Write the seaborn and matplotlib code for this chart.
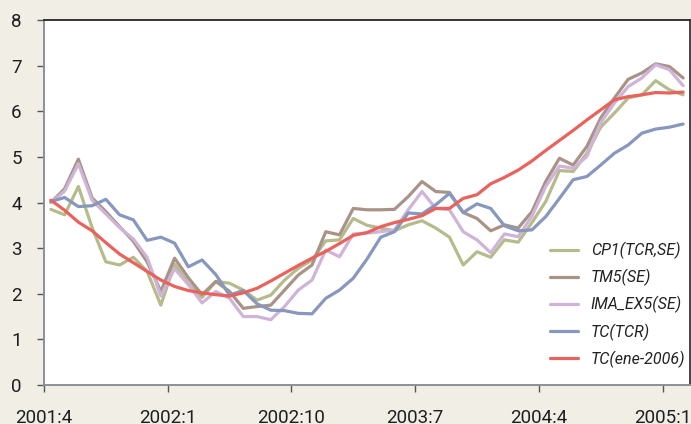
import numpy as np
import pandas as pd
import matplotlib
matplotlib.use("Agg")
import matplotlib.pyplot as plt
import seaborn as sns

# monthly observations, 2001:4 .. 2005:2
months = [f"{p.year}:{p.month}" for p in pd.period_range("2001-04", periods=47, freq="M")]

cp1 = [3.85, 3.73, 4.35, 3.45, 2.70, 2.63, 2.80, 2.49, 1.75, 2.65,
       2.23, 1.92, 2.27, 2.23, 2.08, 1.86, 1.97, 2.30, 2.56, 2.74,
       3.16, 3.18, 3.65, 3.50, 3.44, 3.38, 3.51, 3.60, 3.44, 3.24,
       2.63, 2.92, 2.80, 3.18, 3.13, 3.56, 4.02, 4.70, 4.68, 5.08,
       5.65, 5.96, 6.29, 6.36, 6.67, 6.47, 6.36]
tm5 = [4.00, 4.30, 4.95, 4.10, 3.80, 3.47, 3.15, 2.70, 2.05, 2.78,
       2.35, 1.98, 2.27, 2.05, 1.68, 1.72, 1.75, 2.08, 2.41, 2.63,
       3.36, 3.29, 3.87, 3.84, 3.84, 3.85, 4.13, 4.46, 4.24, 4.22,
       3.78, 3.65, 3.38, 3.51, 3.44, 3.80, 4.46, 4.97, 4.82, 5.23,
       5.85, 6.29, 6.70, 6.84, 7.04, 6.98, 6.73]
ima_ex5 = [4.00, 4.25, 4.85, 4.05, 3.75, 3.45, 3.20, 2.80, 1.95, 2.55,
           2.20, 1.80, 2.05, 1.90, 1.50, 1.50, 1.43, 1.72, 2.08, 2.30,
           2.96, 2.81, 3.31, 3.33, 3.36, 3.40, 3.84, 4.24, 3.87, 3.84,
           3.36, 3.18, 2.90, 3.31, 3.25, 3.70, 4.35, 4.80, 4.75, 5.01,
           5.75, 6.18, 6.54, 6.73, 7.02, 6.91, 6.56]
tc_tcr = [4.02, 4.11, 3.91, 3.93, 4.07, 3.73, 3.62, 3.17, 3.24, 3.11,
          2.59, 2.74, 2.42, 1.97, 2.07, 1.78, 1.64, 1.63, 1.57, 1.56,
          1.90, 2.08, 2.34, 2.76, 3.24, 3.36, 3.77, 3.75, 3.95, 4.20,
          3.78, 3.97, 3.87, 3.49, 3.38, 3.40, 3.69, 4.09, 4.50, 4.57,
          4.82, 5.08, 5.26, 5.52, 5.61, 5.65, 5.72]
tc_ene2006 = [4.05, 3.83, 3.57, 3.38, 3.12, 2.87, 2.68, 2.49, 2.30, 2.16,
              2.07, 2.02, 1.98, 1.95, 2.02, 2.12, 2.28, 2.45, 2.62, 2.78,
              2.93, 3.10, 3.28, 3.34, 3.47, 3.56, 3.63, 3.71, 3.87, 3.87,
              4.09, 4.17, 4.41, 4.55, 4.71, 4.91, 5.14, 5.36, 5.58, 5.81,
              6.03, 6.25, 6.32, 6.36, 6.41, 6.40, 6.42]

series_names = ["CP1(TCR,SE)", "TM5(SE)", "IMA_EX5(SE)", "TC(TCR)", "TC(ene-2006)"]
series_values = [cp1, tm5, ima_ex5, tc_tcr, tc_ene2006]
colors = ["#b6bb8c", "#a99388", "#cfb3d8", "#8797bd", "#e9625c"]
tick_labels = ["2001:4", "2002:1", "2002:10", "2003:7", "2004:4", "2005:1"]

df = pd.concat([
    pd.DataFrame({"idx": np.arange(len(months)), "mes": months, "valor": v, "serie": n})
    for n, v in zip(series_names, series_values)
])

sns.set_style("white")
plt.rcParams["font.family"] = ["Roboto", "DejaVu Sans"]

fig = plt.figure(figsize=(6.91, 4.24), dpi=100, facecolor="#f1eee6")
ax = fig.add_axes([44 / 691, 39 / 424, 646 / 691, 365 / 424])
ax.set_facecolor("white")

sns.lineplot(data=df, x="idx", y="valor", hue="serie", hue_order=series_names,
             palette=colors, linewidth=2.3, ax=ax)

ax.set_xlim(-0.5, len(months) - 0.5)
ax.set_ylim(0, 8)
tick_pos = [months.index(t) - 0.5 for t in tick_labels]
ax.set_xticks(tick_pos)
ax.set_xticklabels(tick_labels)
ax.set_yticks(range(0, 9))
ax.set_xlabel("")
ax.set_ylabel("")

ax.tick_params(axis="both", direction="out", length=5, width=1, color="#555555",
               labelsize=13.5, labelcolor="#1e1e1e", pad=11)
ax.tick_params(axis="x", bottom=True, pad=12)
ax.tick_params(axis="y", left=True)

ax.spines["left"].set_color("#8a90a0")
ax.spines["bottom"].set_color("#8a8f99")
ax.spines["top"].set_color("#333333")
ax.spines["right"].set_color("#444444")
for s in ax.spines.values():
    s.set_linewidth(1.4)

leg = ax.legend(loc="upper left", bbox_to_anchor=((550 - 44) / 646, (385 - 242) / 365),
                frameon=False, borderpad=0, borderaxespad=0, handlelength=1.75,
                handletextpad=0.8, labelspacing=0.62, prop={"size": 11.5, "style": "italic"})
for t in leg.get_texts():
    t.set_color("#222222")

fig.savefig("out.png", dpi=100, facecolor=fig.get_facecolor())
